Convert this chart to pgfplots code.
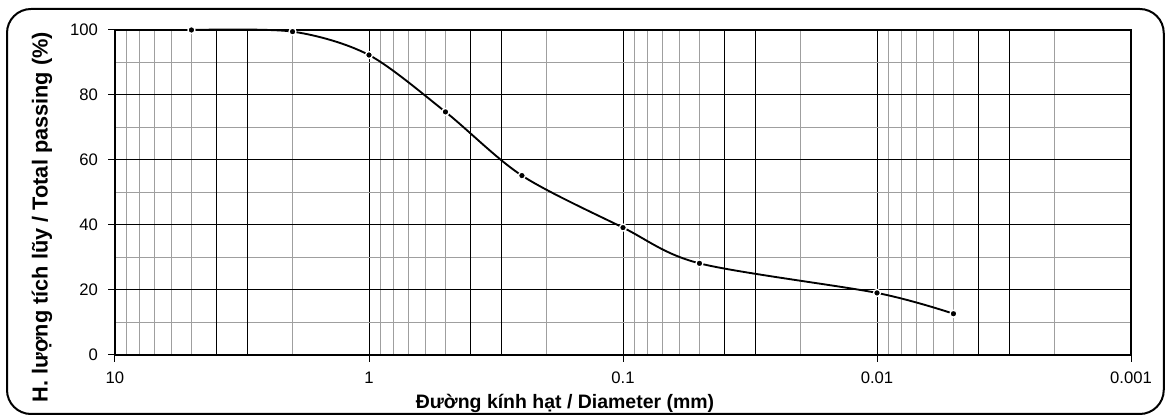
\documentclass[border=0pt]{standalone}
\usepackage{pgfplots}
\pgfplotsset{compat=1.18}
\usepackage{fontspec}
\setmainfont{Liberation Sans}
\begin{document}
\begin{tikzpicture}
\useasboundingbox (0,0) rectangle (874.5pt,312.75pt);
\draw[line width=1.5pt, rounded corners=18pt] (5.25pt,2.25pt) rectangle (872.8pt,306pt);
\begin{axis}[
  at={(86.25pt,46.5pt)}, anchor=south west,
  width=762pt, height=243.75pt, scale only axis,
  xmode=log, x dir=reverse,
  xmin=0.001, xmax=10, ymin=0, ymax=100,
  xtick={10,1,0.1,0.01,0.001},
  xticklabels={10,1,0.1,0.01,0.001},
  minor xtick={2,3,4,5,6,7,8,9,0.2,0.3,0.4,0.5,0.6,0.7,0.8,0.9,0.02,0.03,0.04,0.05,0.06,0.07,0.08,0.09,0.002,0.003,0.004,0.005,0.006,0.007,0.008,0.009},
  extra x ticks={4,3,0.4,0.3,0.04,0.03,0.004,0.003},
  extra x tick labels={},
  extra x tick style={grid=major, major grid style={black, line width=0.75pt}, major tick length=0pt},
  ytick={0,20,40,60,80,100},
  minor ytick={10,30,50,70,90},
  grid=both,
  major grid style={black, line width=0.75pt},
  minor grid style={gray!75, line width=0.75pt},
  tick align=outside,
  major tick length=5.25pt, minor tick length=0pt,
  xtick pos=lower, ytick pos=left,
  tick style={black, line width=0.75pt},
  axis line style={line width=1.5pt},
  /pgf/number format/assume math mode=true,
  every tick label/.append style={font=\fontsize{12.5}{15}\selectfont},
  xticklabel style={yshift=-4pt},
  yticklabel style={xshift=-4pt},
  clip=false,
]
\addplot[black, line width=1.4pt, smooth, tension=0.5,
  mark=*, mark size=2.6pt, mark options={fill=black, draw=white, line width=1pt}]
  coordinates {
  (5,100) (2,99.5) (1,92.3) (0.5,74.8) (0.25,55.2) (0.1,39.2) (0.05,28.2) (0.01,19.1) (0.005,12.7)
  };
\end{axis}
\node[anchor=base, font=\bfseries\fontsize{14.6}{16}\selectfont] at (423.75pt,6pt) {Đường kính hạt / Diameter (mm)};
\node[rotate=90, font=\bfseries\fontsize{16.3}{18}\selectfont] at (31.5pt,150pt) {H. lượng tích lũy / Total passing (\%)};
\end{tikzpicture}
\end{document}
